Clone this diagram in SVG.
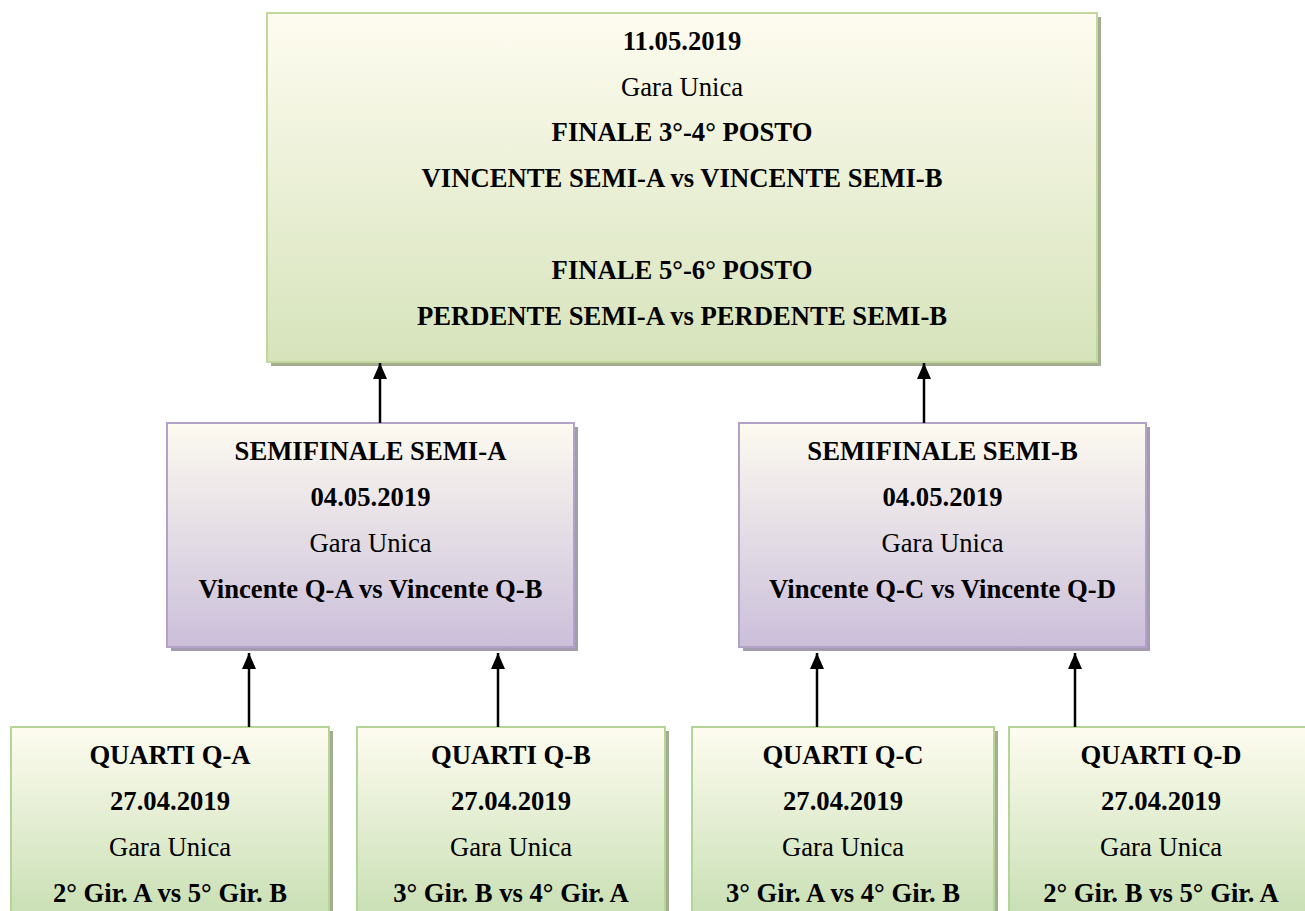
<svg xmlns="http://www.w3.org/2000/svg" width="1305" height="911" viewBox="0 0 1305 911">
<defs>
<linearGradient id="gTop" x1="0" y1="0" x2="0" y2="1">
<stop offset="0" stop-color="#fefcf0"/>
<stop offset="1" stop-color="#d6e3bb"/>
</linearGradient>
<linearGradient id="gQ" x1="0" y1="0" x2="0" y2="1">
<stop offset="0" stop-color="#fefcf0"/>
<stop offset="1" stop-color="#bfdaa9"/>
</linearGradient>
<linearGradient id="gS" x1="0" y1="0" x2="0" y2="1">
<stop offset="0" stop-color="#fdfaf0"/>
<stop offset="1" stop-color="#cbbfda"/>
</linearGradient>
<marker id="arr" viewBox="0 0 16 14" refX="16" refY="7" markerWidth="16" markerHeight="14" markerUnits="userSpaceOnUse" orient="auto">
<path d="M0,0 L16,7 L0,14 Z" fill="#000"/>
</marker>
<style>
text{font-family:'Liberation Serif','Times New Roman',Times,serif;font-size:26.67px;fill:#000;text-anchor:middle}
.b{font-weight:bold}
.gbox{fill:url(#gTop);stroke:#c3d69b;stroke-width:2}
.qbox{fill:url(#gQ);stroke:#b5d497;stroke-width:2}
.sbox{fill:url(#gS);stroke:#b3a2c7;stroke-width:2}
.gsh{fill:#a4ad8f}
.qsh{fill:#a4ad8f}
.ssh{fill:#a39bae}
.con{stroke:#000;stroke-width:2.5;fill:none;marker-end:url(#arr)}
</style>
</defs>

<g id="finale" font-family="Liberation Serif, serif">
<rect class="gsh" x="271" y="17" width="830" height="349"/>
<rect class="gbox" x="267" y="13" width="830" height="349"/>
<text class="b" x="682" y="50">11.05.2019</text>
<text x="682" y="96">Gara Unica</text>
<text class="b" x="682" y="141">FINALE 3°-4° POSTO</text>
<text class="b" x="682" y="187">VINCENTE SEMI-A vs VINCENTE SEMI-B</text>
<text class="b" x="682" y="279">FINALE 5°-6° POSTO</text>
<text class="b" x="682" y="325">PERDENTE SEMI-A vs PERDENTE SEMI-B</text>
</g>

<g id="semi-a" font-family="Liberation Serif, serif">
<rect class="ssh" x="171" y="427" width="407" height="224"/>
<rect class="sbox" x="167" y="423" width="407" height="224"/>
<text class="b" x="370.5" y="460">SEMIFINALE SEMI-A</text>
<text class="b" x="370.5" y="506">04.05.2019</text>
<text x="370.5" y="552">Gara Unica</text>
<text class="b" x="370.5" y="598">Vincente Q-A vs Vincente Q-B</text>
</g>

<g id="semi-b" font-family="Liberation Serif, serif">
<rect class="ssh" x="743" y="427" width="407" height="224"/>
<rect class="sbox" x="739" y="423" width="407" height="224"/>
<text class="b" x="942.5" y="460">SEMIFINALE SEMI-B</text>
<text class="b" x="942.5" y="506">04.05.2019</text>
<text x="942.5" y="552">Gara Unica</text>
<text class="b" x="942.5" y="598">Vincente Q-C vs Vincente Q-D</text>
</g>

<g id="quarti-a" font-family="Liberation Serif, serif">
<rect class="qsh" x="15" y="731" width="318" height="224"/>
<rect class="qbox" x="11" y="727" width="318" height="224"/>
<text class="b" x="170" y="764">QUARTI Q-A</text>
<text class="b" x="170" y="810">27.04.2019</text>
<text x="170" y="856">Gara Unica</text>
<text class="b" x="170" y="902">2° Gir. A vs 5° Gir. B</text>
</g>

<g id="quarti-b" font-family="Liberation Serif, serif">
<rect class="qsh" x="361" y="731" width="308" height="224"/>
<rect class="qbox" x="357" y="727" width="308" height="224"/>
<text class="b" x="511" y="764">QUARTI Q-B</text>
<text class="b" x="511" y="810">27.04.2019</text>
<text x="511" y="856">Gara Unica</text>
<text class="b" x="511" y="902">3° Gir. B vs 4° Gir. A</text>
</g>

<g id="quarti-c" font-family="Liberation Serif, serif">
<rect class="qsh" x="696" y="731" width="302" height="224"/>
<rect class="qbox" x="692" y="727" width="302" height="224"/>
<text class="b" x="843" y="764">QUARTI Q-C</text>
<text class="b" x="843" y="810">27.04.2019</text>
<text x="843" y="856">Gara Unica</text>
<text class="b" x="843" y="902">3° Gir. A vs 4° Gir. B</text>
</g>

<g id="quarti-d" font-family="Liberation Serif, serif">
<rect class="qsh" x="1013" y="731" width="304" height="224"/>
<rect class="qbox" x="1009" y="727" width="304" height="224"/>
<text class="b" x="1161" y="764">QUARTI Q-D</text>
<text class="b" x="1161" y="810">27.04.2019</text>
<text x="1161" y="856">Gara Unica</text>
<text class="b" x="1161" y="902">2° Gir. B vs 5° Gir. A</text>
</g>

<g id="connectors">
<line class="con" x1="380" y1="423" x2="380" y2="363"/>
<line class="con" x1="924" y1="423" x2="924" y2="363"/>
<line class="con" x1="249" y1="727" x2="249" y2="653"/>
<line class="con" x1="498" y1="727" x2="498" y2="653"/>
<line class="con" x1="817" y1="727" x2="817" y2="653"/>
<line class="con" x1="1075" y1="727" x2="1075" y2="653"/>
</g>
</svg>
